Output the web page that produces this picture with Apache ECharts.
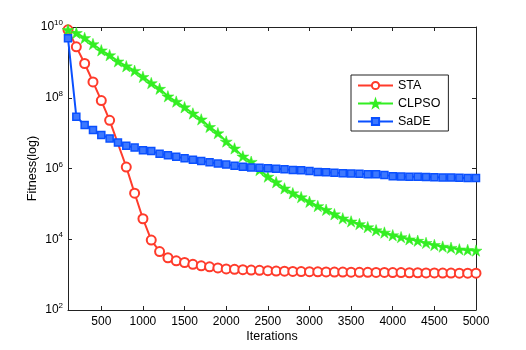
<!DOCTYPE html>
<html>
<head>
<meta charset="utf-8">
<script src="https://cdn.jsdelivr.net/npm/echarts@6/dist/echarts.min.js"></script>
<style>html,body{margin:0;padding:0;background:#fff}#c{width:526px;height:350px}</style>
</head>
<body>
<div id="c"></div>
<script>
const staIter = [100,200,300,400,500,600,800,900,1000,1100,1200,1300,1400,1500,1600,1700,1800,1900,2000,2100,2200,2300,2400,2500,2600,2700,2800,2900,3000,3100,3200,3300,3400,3500,3600,3700,3800,3900,4000,4100,4200,4300,4400,4500,4600,4700,4800,4900,5000];
const staValues = [8.3e9,2.75e9,9.3e8,2.8e8,8.3e7,2.3e7,1.1e6,2.0e5,3.8e4,9.5e3,4.5e3,3.0e3,2.45e3,2.2e3,1.95e3,1.78e3,1.66e3,1.55e3,1.45e3,1.41e3,1.38e3,1.35e3,1.32e3,1.29e3,1.26e3,1.25e3,1.23e3,1.22e3,1.21e3,1.20e3,1.19e3,1.18e3,1.18e3,1.17e3,1.16e3,1.16e3,1.15e3,1.15e3,1.14e3,1.14e3,1.13e3,1.13e3,1.12e3,1.12e3,1.11e3,1.11e3,1.10e3,1.10e3,1.10e3];
const iterations = [100,200,300,400,500,600,700,800,900,1000,1100,1200,1300,1400,1500,1600,1700,1800,1900,2000,2100,2200,2300,2400,2500,2600,2700,2800,2900,3000,3100,3200,3300,3400,3500,3600,3700,3800,3900,4000,4100,4200,4300,4400,4500,4600,4700,4800,4900,5000];
const clpsoValues = [8.3e9,6.8e9,4.9e9,3.3e9,2.2e9,1.6e9,1.07e9,7.8e8,5.8e8,3.9e8,2.6e8,1.8e8,1.1e8,7.8e7,5.4e7,3.6e7,2.45e7,1.5e7,1.0e7,5.8e6,3.7e6,2.2e6,1.55e6,9.1e5,5.9e5,4.1e5,2.75e5,2.0e5,1.55e5,1.15e5,8.7e4,6.8e4,5.1e4,3.9e4,3.2e4,2.7e4,2.2e4,1.8e4,1.55e4,1.3e4,1.15e4,1.0e4,9.1e3,7.9e3,6.9e3,6.2e3,5.75e3,5.2e3,5.0e3,4.8e3];
const sadeValues = [4.8e9,2.9e7,1.7e7,1.23e7,8.9e6,7.1e6,5.4e6,4.4e6,3.9e6,3.3e6,3.1e6,2.6e6,2.35e6,2.15e6,1.95e6,1.78e6,1.62e6,1.51e6,1.38e6,1.29e6,1.2e6,1.12e6,1.07e6,1.05e6,1.02e6,9.8e5,9.5e5,9.1e5,8.9e5,8.5e5,7.9e5,7.8e5,7.6e5,7.4e5,7.2e5,7.1e5,6.9e5,6.9e5,6.6e5,6.0e5,5.9e5,5.85e5,5.8e5,5.75e5,5.7e5,5.6e5,5.55e5,5.5e5,5.4e5,5.35e5];
const xTicks = [500,1000,1500,2000,2500,3000,3500,4000,4500,5000];
const yTicks = [1e2,1e4,1e6,1e8,1e10];
const seriesNames = ['STA','CLPSO','SaDE'];

const RED = '#ff3b2b', GREEN = '#33ee22', BLUE = '#0a50ff';
const STAR = 'path://M50,0 L61.8,36.2 L100,36.2 L69.1,58.8 L80.9,95.1 L50,72.4 L19.1,95.1 L30.9,58.8 L0,36.2 L38.2,36.2 Z';
const pairs = (xs, ys) => xs.map((x, i) => [x, ys[i]]);
const font = 'Liberation Sans, Arial, sans-serif';

const chart = echarts.init(document.getElementById('c'), null, {renderer: 'canvas'});
const axisLine = {show: true, lineStyle: {color: '#222', width: 1}};
const tick = {show: true, inside: true, length: 4, lineStyle: {color: '#222'}};
chart.setOption({
  animation: false,
  backgroundColor: '#fff',
  grid: {left: 68, right: 50, top: 27, bottom: 40, containLabel: false},
  legend: {
    orient: 'vertical', left: 351, top: 75,
    data: seriesNames,
    itemWidth: 35, itemHeight: 9, itemGap: 5,
    padding: [4, 8, 3, 6],
    borderColor: '#222', borderWidth: 1, backgroundColor: '#fff',
    textStyle: {fontFamily: font, fontSize: 12.5, color: '#000'}
  },
  xAxis: [{
    type: 'value', min: 100, max: 5000, position: 'bottom',
    name: 'Iterations', nameLocation: 'middle', nameGap: 20, nameMoveOverlap: false,
    nameTextStyle: {fontFamily: font, fontSize: 12.5, color: '#000'},
    axisLine: axisLine,
    axisTick: Object.assign({}, tick, {customValues: xTicks}),
    axisLabel: {customValues: xTicks, formatter: v => String(v), fontFamily: font, fontSize: 12, color: '#000', margin: 6},
    splitLine: {show: false}
  }, {
    type: 'value', min: 100, max: 5000, position: 'top',
    axisLine: axisLine,
    axisTick: Object.assign({}, tick, {customValues: xTicks}),
    axisLabel: {show: false},
    splitLine: {show: false}
  }],
  yAxis: [{
    type: 'log', logBase: 10, min: 1e2, max: 1e10, position: 'left',
    name: 'Fitness(log)', nameLocation: 'middle', nameGap: 29, nameMoveOverlap: false,
    nameTextStyle: {fontFamily: font, fontSize: 12.5, color: '#000'},
    axisLine: axisLine,
    axisTick: Object.assign({}, tick, {customValues: yTicks}),
    axisLabel: {
      customValues: yTicks, margin: 5,
      formatter: v => '{b|10}{s|' + Math.round(Math.log10(v)) + '}',
      rich: {
        b: {fontFamily: font, fontSize: 12, color: '#000'},
        s: {fontFamily: font, fontSize: 8, color: '#000', verticalAlign: 'bottom', padding: [0, 0, 8, 0]}
      }
    },
    splitLine: {show: false}
  }, {
    type: 'log', logBase: 10, min: 1e2, max: 1e10, position: 'right',
    axisLine: axisLine,
    axisTick: Object.assign({}, tick, {customValues: yTicks}),
    axisLabel: {show: false},
    splitLine: {show: false}
  }],
  series: [{
    name: 'STA', type: 'line', data: pairs(staIter, staValues),
    symbol: 'circle', symbolSize: 9,
    lineStyle: {color: RED, width: 2},
    itemStyle: {color: '#fff', borderColor: RED, borderWidth: 2}
  }, {
    name: 'CLPSO', type: 'line', data: pairs(iterations, clpsoValues),
    symbol: STAR, symbolSize: 12, symbolKeepAspect: true,
    lineStyle: {color: GREEN, width: 2},
    itemStyle: {color: GREEN, borderColor: GREEN, borderWidth: 0.5}
  }, {
    name: 'SaDE', type: 'line', data: pairs(iterations, sadeValues),
    symbol: 'rect', symbolSize: 7,
    lineStyle: {color: BLUE, width: 2},
    itemStyle: {color: '#3d78ff', borderColor: BLUE, borderWidth: 1.5}
  }]
});
</script>
</body>
</html>
